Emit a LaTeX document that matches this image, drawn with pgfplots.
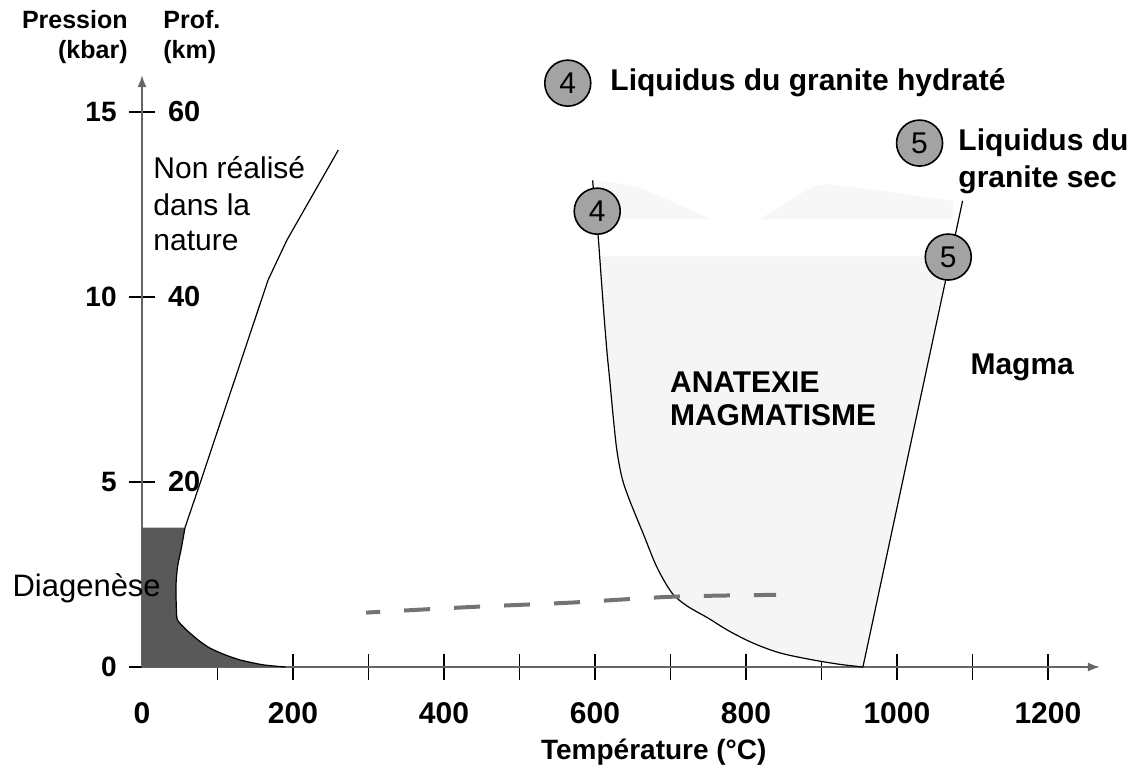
\documentclass[border=0pt]{standalone}
\usepackage{pgfplots}
\pgfplotsset{compat=1.18}
\usetikzlibrary{arrows.meta}
\usepackage{fontspec}
\setmainfont{Liberation Sans}
\begin{document}
\begin{tikzpicture}
\begin{axis}[name=ax,
 scale only axis, width=479pt, height=296pt,
 xmin=0, xmax=1269, ymin=0, ymax=16,
 axis lines=left,
 axis line style={black!60, line width=1pt, -{Latex[length=6pt,width=4.5pt]}},
 clip=false,
 tick align=center, major tick length=13pt,
 tick style={black, line width=0.8pt},
 xtick={100,200,...,1200},
 xticklabels={,200,,400,,600,,800,,1000,,1200},
 extra x ticks={0}, extra x tick labels={0},
 extra x tick style={tick style={draw=none}},
 ytick={0,5,10,15}, yticklabels={0,5,10,15},
 xticklabel style={font=\fontsize{15}{18}\selectfont\bfseries, anchor=center, yshift=-16.5pt},
 yticklabel style={font=\fontsize{14}{17}\selectfont\bfseries, anchor=east, inner sep=0pt, xshift=-6pt},
 minor tick num=0,
]
% faint hatched zones
\addplot[draw=none, fill=black!4] coordinates {(606,11.1)(608,10.6)(612,9.5)(616,8.5)(620,7.67)(624,6.8)(629,5.86)(636,5.1)(646,4.5)(664,3.6)(682,2.7)(702,2.0)(722,1.65)(750,1.32)(777,0.98)(809,0.65)(845,0.38)(889,0.19)(925,0.07)(955,0)(1070,11.1)};
\addplot[draw=none, fill=black!3] coordinates {(603,12.1)(755,12.1)(655,13.0)(605,13.15)};
\addplot[draw=none, fill=black!3] coordinates {(818,12.1)(1074,12.1)(1074,12.6)(970,12.9)(905,13.05)(885,12.95)};
% diagenese
\addplot[draw=none, fill=black!65] coordinates {(0,0)(0,3.77)(57,3.77)(52,3.2)(47,2.7)(45,2.2)(45.5,1.6)(47,1.27)(59,1.0)(75,0.72)(90,0.51)(110,0.33)(130,0.19)(160,0.06)(190,0)};
\addplot[black, line width=0.6pt, smooth, tension=0.4] coordinates {(57,3.77)(52,3.2)(47,2.7)(45,2.2)(45.5,1.6)(47,1.27)(59,1.0)(75,0.72)(90,0.51)(110,0.33)(130,0.19)(160,0.06)(190,0)};
% geotherme
\addplot[black, line width=0.6pt] coordinates {(57,3.77)(77,4.97)(105,6.68)(130,8.2)(167,10.46)(192,11.54)(260,13.97)};
% liquidus hydrate
\addplot[black, line width=0.6pt, smooth, tension=0.5] coordinates {(597,13.15)(600,12.4)(604,11.7)(608,10.6)(612,9.5)(616,8.5)(620,7.67)(624,6.8)(629,5.86)(636,5.1)(646,4.5)(664,3.6)(682,2.7)(702,2.0)(722,1.65)(750,1.32)(777,0.98)(809,0.65)(845,0.38)(889,0.19)(925,0.07)(955,0)};
% liquidus sec
\addplot[black, line width=0.6pt] coordinates {(955,0)(1087,12.6)};
% dashed line
\addplot[black!55, line width=2pt, dash pattern=on 13pt off 12pt, dash phase=6pt, smooth] coordinates {(297,1.47)(434,1.62)(568,1.74)(703,1.90)(840,1.95)};
% circles
\addplot[only marks, mark=*, mark size=11.5pt, mark options={fill=gray!72, draw=black, line width=0.8pt},
 nodes near coords, point meta=explicit symbolic,
 every node near coord/.append style={font=\fontsize{15}{18}\selectfont, inner sep=0pt, anchor=center}]
 coordinates {(564,15.78)[4] (1030,14.16)[5] (603,12.32)[4] (1068,11.08)[5]};
% texts
\node[anchor=west, inner sep=0pt, font=\fontsize{15}{18}\selectfont] at (axis cs:14.6,13.49) {Non réalisé};
\node[anchor=west, inner sep=0pt, font=\fontsize{15}{18}\selectfont] at (axis cs:14.6,12.49) {dans la};
\node[anchor=west, inner sep=0pt, font=\fontsize{15}{18}\selectfont] at (axis cs:14.6,11.51) {nature};
\node[anchor=west, inner sep=0pt, font=\fontsize{15.5}{18}\selectfont] at (axis cs:-172,2.14) {Diagenèse};
\node[anchor=east, inner sep=0pt, font=\fontsize{12.5}{15}\selectfont\bfseries] at (axis cs:-18.5,17.49) {Pression};
\node[anchor=east, inner sep=0pt, font=\fontsize{12.5}{15}\selectfont\bfseries] at (axis cs:-18.5,16.62) {(kbar)};
\node[anchor=west, inner sep=0pt, font=\fontsize{12.5}{15}\selectfont\bfseries] at (axis cs:27.8,17.49) {Prof.};
\node[anchor=west, inner sep=0pt, font=\fontsize{12.5}{15}\selectfont\bfseries] at (axis cs:27.8,16.62) {(km)};
\node[anchor=west, inner sep=0pt, font=\fontsize{14.5}{17}\selectfont\bfseries] at (axis cs:34,15) {60};
\node[anchor=west, inner sep=0pt, font=\fontsize{14.5}{17}\selectfont\bfseries] at (axis cs:34,10) {40};
\node[anchor=west, inner sep=0pt, font=\fontsize{14.5}{17}\selectfont\bfseries] at (axis cs:34,5) {20};
\node[anchor=west, inner sep=0pt, font=\fontsize{15}{18}\selectfont\bfseries] at (axis cs:1097,8.11) {Magma};
\node[anchor=west, inner sep=0pt, font=\fontsize{15}{18}\selectfont\bfseries] at (axis cs:699,7.70) {ANATEXIE};
\node[anchor=west, inner sep=0pt, font=\fontsize{15}{18}\selectfont\bfseries] at (axis cs:699,6.81) {MAGMATISME};
\node[anchor=west, inner sep=0pt, font=\fontsize{15}{18}\selectfont\bfseries] at (axis cs:620,15.78) {Liquidus du granite hydraté};
\node[anchor=west, inner sep=0pt, font=\fontsize{15}{18}\selectfont\bfseries] at (axis cs:1081,14.16) {Liquidus du};
\node[anchor=west, inner sep=0pt, font=\fontsize{15}{18}\selectfont\bfseries] at (axis cs:1081,13.16) {granite sec};
\node[anchor=center, inner sep=0pt, font=\fontsize{14}{17}\selectfont\bfseries] at (axis cs:678,-2.30) {Température (°C)};
\end{axis}
\path ([shift={(-71pt,-55.5pt)}]ax.south west) rectangle ([shift={(497.5pt,333.5pt)}]ax.south west);
\end{tikzpicture}
\end{document}
